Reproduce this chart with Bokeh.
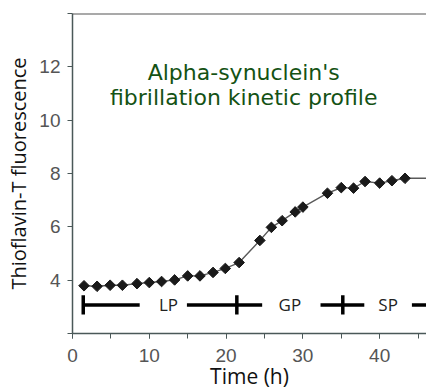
import math
from bokeh.plotting import figure
from bokeh.models import FixedTicker, SingleIntervalTicker, Span, ColumnDataSource
from bokeh.core.properties import value
from bokeh.embed import file_html
from bokeh.resources import INLINE

# --- data ---
time_h = [1.5, 3.2, 4.9, 6.5, 8.4, 10.0, 11.6, 13.3, 15.0, 16.6, 18.3, 19.9,
          21.7, 24.4, 25.9, 27.3, 29.0, 30.0, 33.2, 35.0, 36.6, 38.1, 40.0, 41.6, 43.3]
tht = [3.79, 3.77, 3.81, 3.81, 3.87, 3.91, 3.95, 4.01, 4.16, 4.16, 4.29, 4.44,
       4.66, 5.49, 5.98, 6.23, 6.56, 6.74, 7.26, 7.47, 7.45, 7.70, 7.64, 7.73, 7.82]
trace_end_time = 47.0

phase_level = 3.07
phase_seg_start = [1.4, 14.9, 32.3, 44.2]
phase_seg_end = [8.75, 24.7, 38.0, 47.0]
phase_marks = [1.4, 21.4, 35.2]
phase_names = ["LP", "GP", "SP"]
phase_name_pos = [12.5, 28.3, 41.1]

y_ticks = [2, 4, 6, 8, 10, 12, 14]
title_lines = ["Alpha-synuclein's", "fibrillation kinetic profile"]
x_label = "Time (h)"
y_label = "Thioflavin-T fluorescence"

p = figure(width=426, height=392, x_range=(0, 46.1), y_range=(2, 14),
           output_backend="svg", toolbar_location=None,
           min_border_left=72, min_border_right=0, min_border_top=13, min_border_bottom=0)
p.outline_line_color = None
p.grid.grid_line_color = None
p.background_fill_color = "white"

axis_col = "#4a5858"
p.xaxis.ticker = SingleIntervalTicker(interval=10, num_minor_ticks=2)
p.xaxis.major_label_standoff = 10
p.xaxis.axis_label = x_label
p.xaxis.axis_label_standoff = -3
p.xaxis.axis_label_text_line_height = 0.8
p.yaxis.ticker = FixedTicker(ticks=y_ticks)
p.yaxis.major_label_overrides = {2: "", 14: ""}
p.yaxis.major_label_standoff = 7
p.yaxis.axis_label = y_label
p.yaxis.axis_label_standoff = 4

for ax in (p.xaxis, p.yaxis):
    ax.axis_line_color = axis_col
    ax.axis_line_width = 1.5
    ax.major_tick_line_color = axis_col
    ax.minor_tick_line_color = axis_col
    ax.major_tick_in = 0
    ax.major_tick_out = 5
    ax.minor_tick_in = 0
    ax.minor_tick_out = 5
    ax.major_label_text_font = "Liberation Sans"
    ax.major_label_text_font_size = "19px"
    ax.major_label_text_color = "#555555"
    ax.axis_label_text_font = "Open Sans"
    ax.axis_label_text_font_style = "normal"
    ax.axis_label_text_color = "#111111"
p.xaxis.axis_label_text_font_size = "21px"
p.yaxis.axis_label_text_font_size = "20px"
p.yaxis.minor_tick_line_color = None

p.add_layout(Span(location=14, dimension="width", line_color="#555555", line_width=2))

# phase bar
p.segment(x0=phase_seg_start, y0=[phase_level] * 4, x1=phase_seg_end, y1=[phase_level] * 4,
          line_color="black", line_width=3.5)
p.segment(x0=phase_marks, y0=[phase_level - 0.36] * 3, x1=phase_marks, y1=[phase_level + 0.36] * 3,
          line_color="black", line_width=3.5)
p.text(x=phase_name_pos, y=[phase_level] * 3, text=phase_names,
       text_font=value("Open Sans"), text_font_size="17px", text_color="#222222",
       text_align="center", text_baseline="middle")

# kinetic trace
src = ColumnDataSource(dict(t=time_h, f=tht))
p.line(x=time_h + [trace_end_time], y=tht + [tht[-1]], line_color="#5a5a5a", line_width=1.4)
p.scatter("t", "f", source=src, marker="square", angle=math.pi / 4, size=7.5,
          fill_color="#1a1a1a", line_color="#1a1a1a")

# title inside plot
p.text(x=[22.3, 22.3], y=[11.79, 10.85], text=title_lines,
       text_font=value("DejaVu Sans"), text_font_size="22px", text_color="#145214",
       text_align="center", text_baseline="middle")

open("out.html", "w").write(file_html(p, INLINE))
